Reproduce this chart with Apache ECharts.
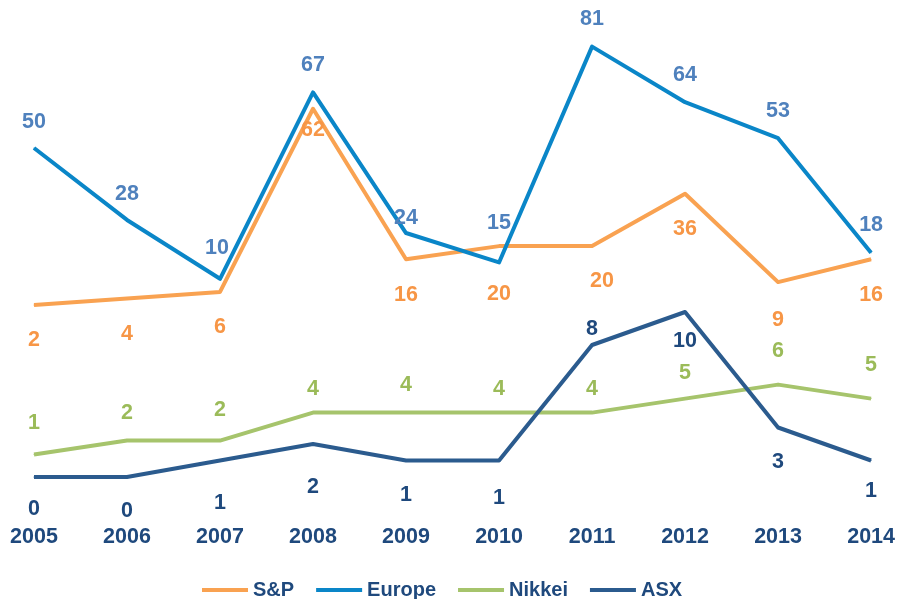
<!DOCTYPE html>
<html>
<head>
<meta charset="utf-8">
<script src="https://cdn.jsdelivr.net/npm/echarts@6/dist/echarts.min.js"></script>
<style>
  html, body { margin: 0; padding: 0; background: #ffffff; }
  #chart { width: 898px; height: 599px; }
</style>
</head>
<body>
<div id="chart"></div>
<script>
// Years on the category axis
const years = ['2005', '2006', '2007', '2008', '2009', '2010', '2011', '2012', '2013', '2014'];

// Values per index
const spValues     = [2, 4, 6, 62, 16, 20, 20, 36, 9, 16];
const europeValues = [50, 28, 10, 67, 24, 15, 81, 64, 53, 18];
const nikkeiValues = [1, 2, 2, 4, 4, 4, 4, 5, 6, 5];
const asxValues    = [0, 0, 1, 2, 1, 1, 8, 10, 3, 1];

// Small per-point label nudges [dx, dy] so labels clear the crossing lines
const spNudges     = [[0,0],[0,0],[0,0],[0,-14],[0,0],[0,12],[10,-1],[0,0],[0,2],[0,0]];
const europeNudges = [[0,2],[0,2],[-3,-3],[0,0],[0,13],[0,-12],[0,0],[0,0],[0,0],[0,0]];
const nikkeiNudges = [[0,-1],[0,3],[0,0],[0,7],[0,3],[0,7],[0,7],[0,5],[0,-3],[0,-3]];
const asxNudges    = [[0,-1],[0,1],[0,9],[0,10],[0,1],[0,4],[0,-49],[0,-4],[0,1],[0,-3]];

const FONT = '"Liberation Sans", Arial, sans-serif';
const TEXT_DARK = '#1F497D';

function withNudges(values, nudges) {
  return values.map((v, i) => ({ value: v, label: { offset: nudges[i] } }));
}

function lineSeries(name, values, nudges, yAxisIndex, lineColor, labelColor, pos, dist) {
  return {
    name: name,
    type: 'line',
    yAxisIndex: yAxisIndex,
    data: withNudges(values, nudges),
    symbol: 'circle',
    symbolSize: 1,
    showSymbol: true,
    lineStyle: { color: lineColor, width: 4, join: 'round' },
    itemStyle: { color: lineColor },
    label: {
      show: true,
      position: pos,
      distance: dist,
      color: labelColor,
      fontFamily: FONT,
      fontWeight: 'bold',
      fontSize: 21.5
    },
    emphasis: { disabled: true },
    animation: false
  };
}

const chart = echarts.init(document.getElementById('chart'), null, { renderer: 'canvas' });

chart.setOption({
  backgroundColor: '#ffffff',
  animation: false,
  grid: { left: 34, right: 26, top: 30, bottom: 122, containLabel: false },
  legend: {
    left: 197,
    top: 575,
    icon: 'rect',
    itemWidth: 46,
    itemHeight: 4,
    itemGap: 22,
    textStyle: { color: TEXT_DARK, fontFamily: FONT, fontWeight: 'bold', fontSize: 20 },
    data: ['S&P', 'Europe', 'Nikkei', 'ASX']
  },
  xAxis: {
    type: 'category',
    data: years,
    boundaryGap: false,
    axisLine: { show: false },
    axisTick: { show: false },
    splitLine: { show: false },
    axisLabel: {
      margin: 49,
      color: TEXT_DARK,
      fontFamily: FONT,
      fontWeight: 'bold',
      fontSize: 21.5
    }
  },
  yAxis: [
    { type: 'value', show: false, min: -50.61, max: 86.09, splitLine: { show: false } },
    { type: 'value', show: false, min: 0, max: 27.09, splitLine: { show: false } },
    { type: 'value', show: false, min: -0.6, max: 31.33, splitLine: { show: false } }
  ],
  series: [
    lineSeries('S&P', spValues, spNudges, 0, '#F9A251', '#F79646', 'bottom', 24),
    lineSeries('Europe', europeValues, europeNudges, 0, '#0A86C8', '#4F81BD', 'top', 16),
    lineSeries('Nikkei', nikkeiValues, nikkeiNudges, 2, '#A6C46C', '#9BBB59', 'top', 19),
    lineSeries('ASX', asxValues, asxNudges, 1, '#2B5B8E', TEXT_DARK, 'bottom', 22)
  ]
});
</script>
</body>
</html>
